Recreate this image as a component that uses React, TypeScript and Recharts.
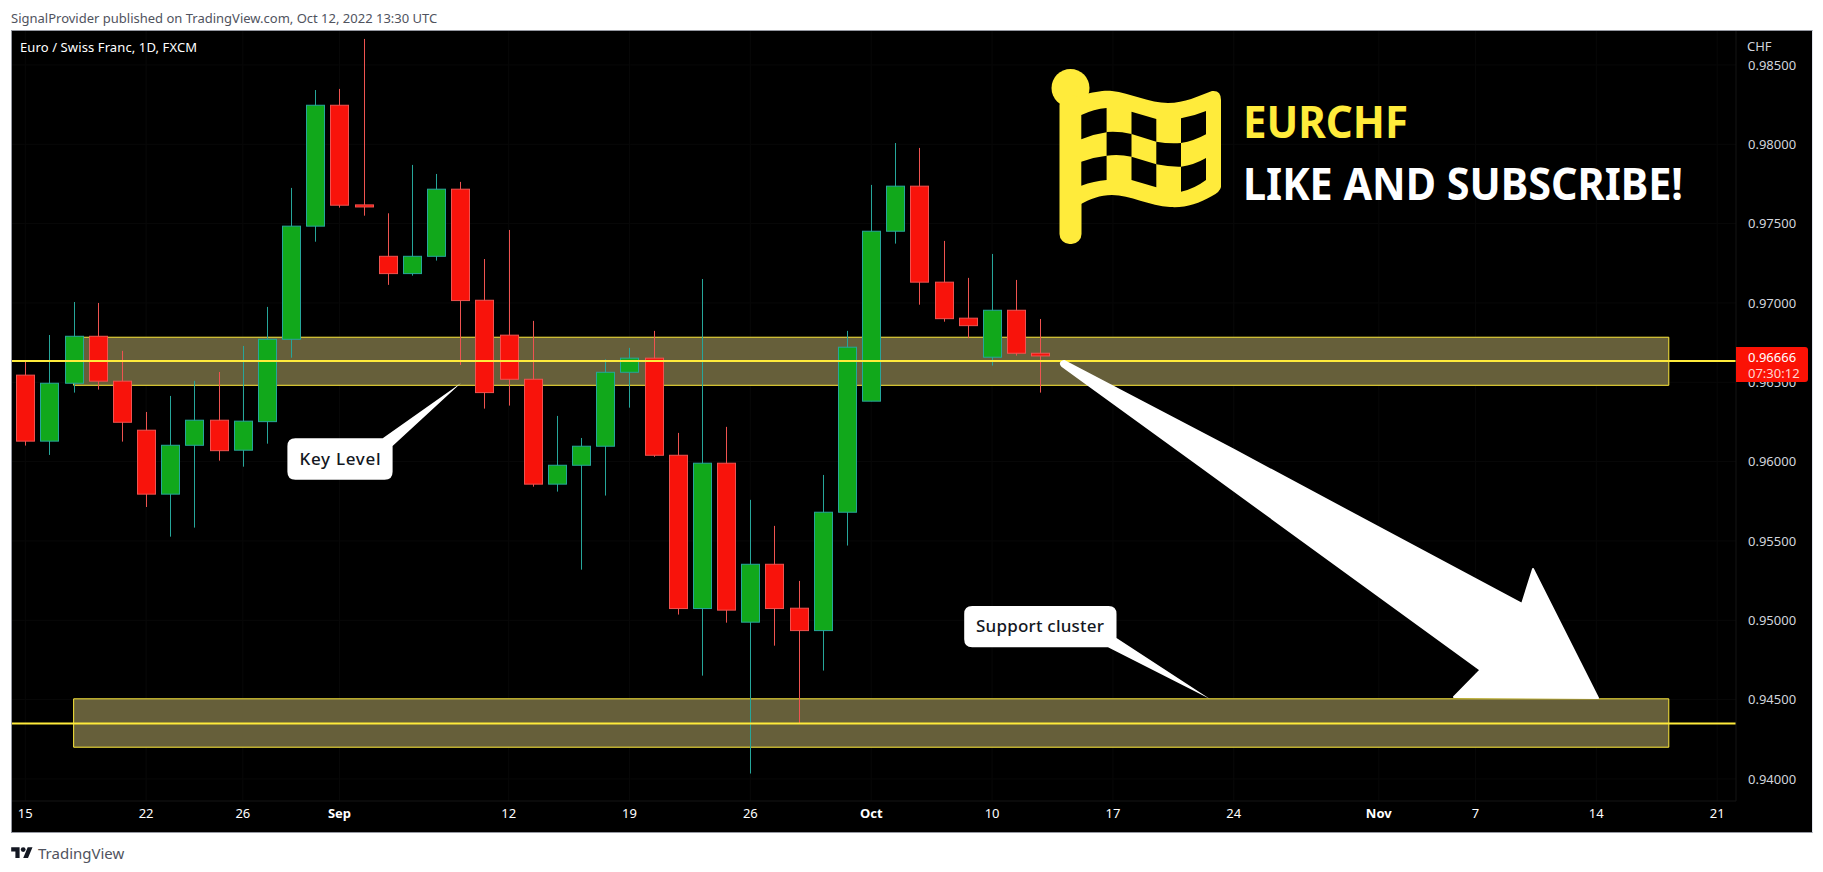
import React from 'react';
import { ComposedChart, Bar, XAxis, YAxis, CartesianGrid, ReferenceArea, ReferenceLine } from 'recharts';

// EUR/CHF daily candles, Aug 15 -> Oct 12 2022
const OPEN = [0.96545, 0.96129, 0.96494, 0.9679, 0.96507, 0.96198, 0.95795, 0.96103, 0.96261, 0.96072, 0.96252, 0.96771, 0.97484, 0.98246, 0.97618, 0.97294, 0.97185, 0.97294, 0.97717, 0.97017, 0.96797, 0.96519, 0.95858, 0.95977, 0.96097, 0.96563, 0.96652, 0.9604, 0.95074, 0.9599, 0.94988, 0.95353, 0.95076, 0.94935, 0.95681, 0.96381, 0.97452, 0.97736, 0.97131, 0.96904, 0.96658, 0.96954, 0.96683];
const CLOSE = [0.96129, 0.96494, 0.9679, 0.96507, 0.96248, 0.95795, 0.96103, 0.96261, 0.96069, 0.96255, 0.96771, 0.97484, 0.98246, 0.97616, 0.97605, 0.97185, 0.97294, 0.97717, 0.97015, 0.96435, 0.96519, 0.95858, 0.95977, 0.96097, 0.96563, 0.96652, 0.9604, 0.95074, 0.9599, 0.95064, 0.95353, 0.95074, 0.94935, 0.95681, 0.96721, 0.97452, 0.97736, 0.97131, 0.96901, 0.96857, 0.96954, 0.96683, 0.96666];
const HIGH = [0.96635, 0.96798, 0.97006, 0.97, 0.96698, 0.96313, 0.96414, 0.96509, 0.96565, 0.96729, 0.96975, 0.97725, 0.98342, 0.98349, 0.98664, 0.97565, 0.9787, 0.97813, 0.97763, 0.97277, 0.9746, 0.96887, 0.96288, 0.96149, 0.96645, 0.96717, 0.96824, 0.96181, 0.97151, 0.96219, 0.95759, 0.95595, 0.95248, 0.95916, 0.96824, 0.97744, 0.98008, 0.97977, 0.97391, 0.97158, 0.97309, 0.97145, 0.96899];
const LOW = [0.96101, 0.96042, 0.96435, 0.96454, 0.96126, 0.95714, 0.95527, 0.95584, 0.96006, 0.95968, 0.96113, 0.96655, 0.97386, 0.97601, 0.9755, 0.97114, 0.97172, 0.97267, 0.96609, 0.96334, 0.96353, 0.95842, 0.95811, 0.95319, 0.95786, 0.9634, 0.9603, 0.95036, 0.94651, 0.94985, 0.94034, 0.9484, 0.94349, 0.94683, 0.95471, 0.96381, 0.97374, 0.96989, 0.96882, 0.96778, 0.96605, 0.96668, 0.96435];

const X_TICKS = [0, 5, 9, 13, 20, 25, 30, 35, 40, 45, 50, 56, 60, 65, 70];
const X_LABELS = ['15', '22', '26', 'Sep', '12', '19', '26', 'Oct', '10', '17', '24', 'Nov', '7', '14', '21'];
const MONTHS = ['Sep', 'Oct', 'Nov'];
const Y_TICKS = [0.94, 0.945, 0.95, 0.955, 0.96, 0.965, 0.97, 0.975, 0.98, 0.985];

const ZONE_TOP = [0.96784, 0.94505];
const ZONE_BOTTOM = [0.96481, 0.942];
const ZONE_START = 2;
const ZONE_END = 68;
const LEVELS = [0.96634, 0.94349];

const FONT = '"Noto Sans", sans-serif';
const YELLOW = '#ffeb3b';
const GREEN = '#11a81b';
const GREEN_EDGE = '#26a69a';
const RED = '#f8130b';
const RED_EDGE = '#ef5350';

const rows = OPEN.map((open, i) => ({ i, open, close: CLOSE[i], high: HIGH[i], low: LOW[i] }));

// draws wick + body from the low/high range the Bar already scaled
const Candle = (props: any) => {
  const { x, y, width, height, payload } = props;
  const k = height / (payload.high - payload.low);
  const up = payload.close >= payload.open;
  const top = y + (payload.high - Math.max(payload.open, payload.close)) * k;
  const bottom = y + (payload.high - Math.min(payload.open, payload.close)) * k;
  const cx = Math.round(x + width / 2) + 0.5;
  const edge = up ? GREEN_EDGE : RED_EDGE;
  return (
    <g>
      <line x1={cx} x2={cx} y1={y} y2={y + height} stroke={edge} strokeWidth={1} />
      <rect x={cx - 9} y={top} width={18} height={Math.max(bottom - top, 1)} fill={up ? GREEN : RED} stroke={edge} strokeWidth={1} />
    </g>
  );
};

const DateTick = (props: any) => {
  const { x, y, payload } = props;
  const label = X_LABELS[X_TICKS.indexOf(payload.value)];
  return (
    <text x={x} y={y} textAnchor="middle" dominantBaseline="central" fill="#fff" fontFamily={FONT} fontSize={13} fontWeight={MONTHS.includes(label) ? 700 : 400}>
      {label}
    </text>
  );
};

const Callout = ({ d, label, x, y, w }: { d: string; label: string; x: number; y: number; w: number }) => (
  <g>
    <path d={d} fill="#fff" />
    <text x={x} y={y} textAnchor="middle" dominantBaseline="central" fontFamily={FONT} fontSize={17} fontWeight={500} fill="#131722" textLength={w} lengthAdjust="spacing">
      {label}
    </text>
  </g>
);

const Flag = () => (
  <g fill={YELLOW}>
    <circle cx={1070.5} cy={88} r={19} />
    <rect x={1059.5} y={95} width={22} height={149} rx={10} />
    <path d="M1081 95 C1095 92 1104 90 1112 91 C1130 93 1150 103 1168 103 C1185 103 1198 96 1212 91 Q1221 90 1221 100 L1221 187 Q1220 192 1212 196 C1198 204 1185 208 1170 207 C1150 206 1130 195 1112 195 C1100 195 1090 199 1081 204 Z" />
    <g fill="#000">
      <path d="M1081.3 115 Q1094 109 1106.6 108 V132.3 Q1094 134 1081.3 139.3 Z" />
      <path d="M1131.5 111.7 L1156.3 119 V141.7 L1131.5 134 Z" />
      <path d="M1181 118.3 Q1194 116 1206 111 V134.3 Q1194 141 1181 143 Z" />
      <path d="M1106.6 132 Q1119 131 1131.5 134 V156.7 Q1119 154 1106.6 155.7 Z" />
      <path d="M1156.3 141.7 Q1169 144 1181 143 V166.7 Q1169 167 1156.3 164.3 Z" />
      <path d="M1081.3 161.7 Q1094 157 1106.6 155.7 V180 Q1094 181 1081.3 185.7 Z" />
      <path d="M1131.5 156.7 L1156.3 164.3 V187.3 L1131.5 180 Z" />
      <path d="M1181 166.7 Q1194 165 1206 158 V180 Q1194 189 1181 191.7 Z" />
    </g>
  </g>
);

const Annotations = () => (
  <svg width={1823} height={872} style={{ position: 'absolute', left: 0, top: 0, pointerEvents: 'none' }}>
    <Callout
      d="M295.4 438.3 H382.7 L461 383 L392.6 446 V471.7 Q392.6 479.7 384.6 479.7 H295.4 Q287.4 479.7 287.4 471.7 V446.3 Q287.4 438.3 295.4 438.3 Z"
      label="Key Level" x={340} y={458} w={81}
    />
    <Callout
      d="M972.2 606 H1108.5 Q1116.5 606 1116.5 614 V638 L1210 699 L1108 647.3 H972.2 Q964.2 647.3 964.2 639.3 V614 Q964.2 606 972.2 606 Z"
      label="Support cluster" x={1040} y={625} w={128}
    />
    <path
      d="M1064 361 L1234 450 L1522 604 L1533 569 L1598 698 L1454 697 L1480.5 670 L1200 466 L1062 366 Q1059 362 1064 361 Z"
      fill="#fff" stroke="#fff" strokeWidth={2} strokeLinejoin="round"
    />
    <Flag />
    <text x={1243} y={138} fontFamily={FONT} fontSize={44} fontWeight={700} fill={YELLOW} textLength={165} lengthAdjust="spacingAndGlyphs">EURCHF</text>
    <text x={1243} y={199.5} fontFamily={FONT} fontSize={44} fontWeight={700} fill="#fff" textLength={440} lengthAdjust="spacingAndGlyphs">LIKE AND SUBSCRIBE!</text>
    <text x={20} y={47} dominantBaseline="central" fontFamily={FONT} fontSize={13} fill="#fff" textLength={177} lengthAdjust="spacing">Euro / Swiss Franc, 1D, FXCM</text>
    <text x={1747} y={46} dominantBaseline="central" fontFamily={FONT} fontSize={13} fill="#d1d4dc">CHF</text>
    <path d="M1736 347 H1805 Q1808 347 1808 350 V379 Q1808 382 1805 382 H1736 Z" fill="#fb1205" />
    <text x={1748} y={356.5} dominantBaseline="central" fontFamily={FONT} fontSize={13} fill="#fff">0.96666</text>
    <text x={1748} y={372.5} dominantBaseline="central" fontFamily={FONT} fontSize={13} fill="#ffd5d2">07:30:12</text>
  </svg>
);

export default function App() {
  return (
    <div style={{ position: 'absolute', left: 0, top: 0, width: 1823, height: 872, background: '#fff', overflow: 'hidden' }}>
      <div style={{ position: 'absolute', left: 11, top: 10, fontFamily: FONT, fontSize: 13, color: '#50535e', lineHeight: '16px', whiteSpace: 'nowrap' }}>
        SignalProvider published on TradingView.com, Oct 12, 2022 13:30 UTC
      </div>
      <div style={{ position: 'absolute', left: 11, top: 30, width: 1800, height: 801, background: '#000', border: '1px solid #9598a1', borderRightColor: '#e0e3eb' }} />
      <div style={{ position: 'absolute', left: 0, top: 0 }}>
        <ComposedChart width={1823} height={872} data={rows} margin={{ top: 31, right: 15, bottom: 41, left: 12 }}>
          <CartesianGrid stroke="#080808" verticalValues={X_TICKS} horizontalValues={Y_TICKS} />
          <XAxis
            type="number"
            dataKey="i"
            domain={[-0.55, 70.78]}
            ticks={X_TICKS}
            interval={0}
            height={30}
            allowDataOverflow
            axisLine={{ stroke: '#151515' }}
            tickLine={false}
            tick={<DateTick />}
            tickMargin={6}
          />
          <YAxis
            orientation="right"
            domain={[0.93861, 0.98714]}
            ticks={Y_TICKS}
            interval={0}
            width={72}
            allowDataOverflow
            axisLine={{ stroke: '#151515' }}
            tickLine={false}
            tickFormatter={(v: number) => v.toFixed(5)}
            tick={{ fill: '#d1d4dc', fontFamily: FONT, fontSize: 13 }}
            tickMargin={6}
          />
          {ZONE_TOP.map((top, k) => (
            <ReferenceArea key={k} x1={ZONE_START} x2={ZONE_END} y1={ZONE_BOTTOM[k]} y2={top} fill="#665f3a" fillOpacity={1} stroke={YELLOW} strokeWidth={1} />
          ))}
          {LEVELS.map(v => (
            <ReferenceLine key={v} y={v} stroke={YELLOW} strokeWidth={2} />
          ))}
          <Bar dataKey={(r: any) => [r.low, r.high]} barSize={18} shape={<Candle />} isAnimationActive={false} />
        </ComposedChart>
      </div>
      <Annotations />
      <svg width={22} height={12} viewBox="0 0 36 20" style={{ position: 'absolute', left: 11, top: 846 }}>
        <path d="M14 20H7V9H0V2h14v18zM28 20h-8l7.5-18h8L28 20z" fill="#131722" />
        <circle cx={20} cy={6} r={4} fill="#131722" />
      </svg>
      <div style={{ position: 'absolute', left: 38, top: 843, fontFamily: FONT, fontSize: 15, color: '#50535e', lineHeight: '20px' }}>TradingView</div>
    </div>
  );
}
